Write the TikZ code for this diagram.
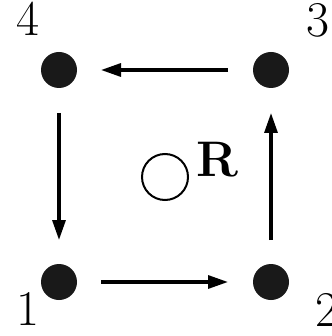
\documentclass[tikz,border=0pt]{standalone}
\usetikzlibrary{arrows.meta}
\begin{document}
\begin{tikzpicture}[x=1pt,y=-1pt,
  dot/.style={circle,fill=black!90,minimum size=36pt,inner sep=0pt},
  lab/.style={font=\fontsize{50}{54}\selectfont,inner sep=0pt},
  arr/.style={line width=3.2pt,-{Triangle[length=20pt,width=13pt]}}]
\useasboundingbox (0,0) rectangle (331,336);
\node[dot] (n4) at (59,70) {};
\node[dot] (n3) at (271,70) {};
\node[dot] (n1) at (59,282) {};
\node[dot] (n2) at (271,282) {};
\node[lab] (l4) at (27.5,18.5) {4};
\node[lab] (l3) at (317.5,20.5) {3};
\node[lab] (l1) at (27.5,308.5) {1};
\node[lab] (l2) at (327,310) {2};
\node[circle,draw,line width=2pt,minimum size=46pt,inner sep=0pt] (c) at (165,177) {};
\node[font=\fontsize{50}{54}\selectfont\bfseries,inner sep=0pt] (R) at (217,160) {R};
\draw[arr] ([xshift=-43pt]n3.center) -- ([xshift=42pt]n4.center);
\draw[arr] ([xshift=42pt]n1.center) -- ([xshift=-43pt]n2.center);
\draw[arr] ([yshift=-43pt]n4.center) -- ([yshift=42pt]n1.center);
\draw[arr] ([yshift=42pt]n2.center) -- ([yshift=-43pt]n3.center);
\end{tikzpicture}
\end{document}
